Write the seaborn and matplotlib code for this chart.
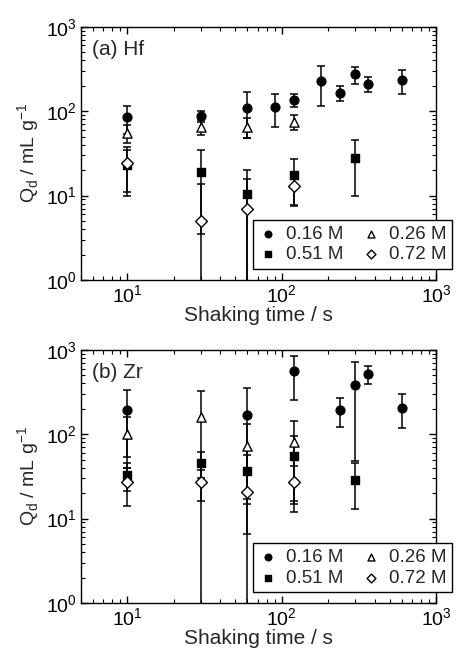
import numpy as np
import pandas as pd
import seaborn as sns
import matplotlib.pyplot as plt
from matplotlib.ticker import LogLocator, NullFormatter

# shaking time (s) and distribution coefficients (mL/g) with errors
hf_t_016 = [10, 30, 60, 90, 120, 180, 240, 300, 360, 600]
hf_q_016 = [85, 88, 108, 111, 135, 229, 165, 272, 211, 231]
hf_e_016 = [31, 13, 60, 47, 23, 115, 33, 60, 41, 73]
hf_t_026 = [10, 30, 60, 120]
hf_q_026 = [55, 65, 65, 75]
hf_e_026 = [13, 13, 17, 15]
hf_t_051 = [10, 30, 60, 120, 300]
hf_q_051 = [23, 19, 10.4, 17.5, 28]
hf_e_051 = [12, 15.5, 9.6, 9.7, 18]
hf_t_072 = [10, 30, 60, 120]
hf_q_072 = [24, 5, 7, 13]
hf_e_072 = [14, 8.7, 8.6, 5.5]

zr_t_016 = [10, 60, 120, 240, 300, 360, 600]
zr_q_016 = [195, 169, 553, 194, 378, 516, 207]
zr_e_016 = [141, 180, 296, 72, 330, 120, 90]
zr_t_026 = [10, 30, 60, 120]
zr_q_026 = [100, 159, 73, 80]
zr_e_026 = [60, 170, 58, 64]
zr_t_051 = [10, 30, 60, 120, 300]
zr_q_051 = [33, 46, 37, 55, 29]
zr_e_051 = [12, 16, 20, 40, 16]
zr_t_072 = [10, 30, 60, 120]
zr_q_072 = [27, 27, 20.5, 27]
zr_e_072 = [13, 11, 14, 15]

labels = ["0.16 M", "0.26 M", "0.51 M", "0.72 M"]

sns.set_theme(style="ticks")
plt.rcParams["font.family"] = ["Liberation Sans", "DejaVu Sans"]
plt.rcParams["mathtext.fontset"] = "custom"
plt.rcParams["mathtext.rm"] = "Liberation Sans"
plt.rcParams["axes.edgecolor"] = "black"
plt.rcParams["axes.linewidth"] = 1.0

# marker, size, face colour per concentration
styles = {
    "0.16 M": ("o", 40, "black"),
    "0.26 M": ("^", 44, "white"),
    "0.51 M": ("s", 36, "black"),
    "0.72 M": ("D", 36, "white"),
}

fig = plt.figure(figsize=(4.57, 6.51), dpi=100)
ax_a = fig.add_axes([0.177, 0.570, 0.777, 0.389])
ax_b = fig.add_axes([0.177, 0.0737, 0.777, 0.389])


def panel(ax, series, title):
    for lab, (t, q, e) in zip(labels, series):
        mk, sz, fc = styles[lab]
        ax.errorbar(t, q, yerr=e, fmt="none", ecolor="black", elinewidth=1.1,
                    capsize=3, capthick=1.1, zorder=2)
        df = pd.DataFrame({"t": t, "q": q})
        sns.scatterplot(data=df, x="t", y="q", ax=ax, marker=mk, s=sz,
                        color=fc, edgecolor="black", linewidth=1.0,
                        label=lab, zorder=3)
    ax.set_xscale("log")
    ax.set_yscale("log")
    ax.set_xlim(5, 1000)
    ax.set_ylim(1, 1000)
    ax.xaxis.set_minor_locator(LogLocator(base=10, subs=np.arange(2, 10)))
    ax.yaxis.set_minor_locator(LogLocator(base=10, subs=np.arange(2, 10)))
    ax.xaxis.set_minor_formatter(NullFormatter())
    ax.yaxis.set_minor_formatter(NullFormatter())
    ax.tick_params(which="both", direction="in", top=True, right=True,
                   labelsize=14, colors="black", pad=3)
    ax.tick_params(which="major", length=5, width=1)
    ax.tick_params(which="minor", length=3, width=0.8)
    ax.set_xlabel("Shaking time / s", fontsize=15, labelpad=0)
    ax.set_ylabel(r"Q$_\mathregular{d}$ / mL g$^\mathregular{-1}$", fontsize=14,
                  labelpad=3)
    ax.text(0.03, 0.91, title, transform=ax.transAxes, fontsize=15,
            va="center", ha="left")
    handles, labs = ax.get_legend_handles_labels()
    order = [0, 2, 1, 3]
    leg = ax.legend([handles[i] for i in order], [labs[i] for i in order],
                    ncol=2, loc="lower right", bbox_to_anchor=(1.045, 0.043),
                    borderaxespad=0,
                    fontsize=13.5, frameon=True, fancybox=False,
                    edgecolor="black", framealpha=1, borderpad=0.3,
                    handletextpad=0.45, columnspacing=1.0, labelspacing=0.2,
                    handlelength=1.0, markerscale=0.75)
    leg.get_frame().set_linewidth(1.0)


panel(ax_a, [(hf_t_016, hf_q_016, hf_e_016), (hf_t_026, hf_q_026, hf_e_026),
             (hf_t_051, hf_q_051, hf_e_051), (hf_t_072, hf_q_072, hf_e_072)],
      "(a) Hf")
panel(ax_b, [(zr_t_016, zr_q_016, zr_e_016), (zr_t_026, zr_q_026, zr_e_026),
             (zr_t_051, zr_q_051, zr_e_051), (zr_t_072, zr_q_072, zr_e_072)],
      "(b) Zr")

fig.savefig("out.png", dpi=100)
